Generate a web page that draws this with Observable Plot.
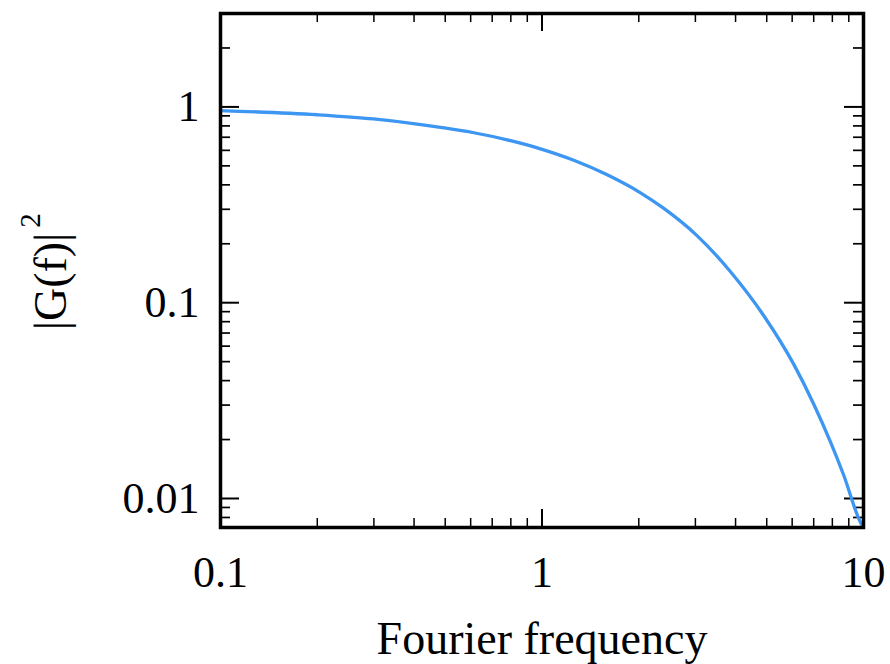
<!DOCTYPE html>
<html><head><meta charset="utf-8">
<script src="https://cdn.jsdelivr.net/npm/d3@7"></script>
<script src="https://cdn.jsdelivr.net/npm/@observablehq/plot@0.6"></script>
<style>html,body{margin:0;padding:0;background:#fff}</style>
</head><body><div id="chart"></div>
<script>
// Values
const freq  = [0.1, 0.2, 0.299, 0.398, 0.483, 0.614, 0.779, 0.989, 1.256, 1.595, 2.025, 2.393, 3.04, 3.858, 4.897, 6.07, 7.004, 7.898, 8.685, 9.788, 10];
const power = [0.958, 0.912, 0.868, 0.822, 0.786, 0.738, 0.679, 0.611, 0.534, 0.450, 0.364, 0.303, 0.2195, 0.1440, 0.0858, 0.0484, 0.0303, 0.0194, 0.0131, 0.00755, 0.00711];

const xTickValues = [0.1, 1, 10];
const xTickLabels = ["0.1", "1", "10"];
const yTickValues = [0.01, 0.1, 1];
const yTickLabels = ["0.01", "0.1", "1"];
const xMinorTicks = [0.2, 0.3, 0.4, 0.5, 0.6, 0.7, 0.8, 0.9, 2, 3, 4, 5, 6, 7, 8, 9];
const yMinorTicks = [0.008, 0.009, 0.02, 0.03, 0.04, 0.05, 0.06, 0.07, 0.08, 0.09, 0.2, 0.3, 0.4, 0.5, 0.6, 0.7, 0.8, 0.9, 2];
const xDomain = [0.1, 10];
const yDomain = [0.00711, 3.0];
const xLabel = "Fourier frequency";
const yLabel = "|G(f)|";
const yLabelSup = "2";

const data = freq.map((f, i) => ({f, p: power[i]}));

const width = 890, height = 664;
const mL = 220, mR = 27, mT = 13, mB = 137;
const W = width - mL - mR, H = height - mT - mB;
const majorLen = 18, minorLen = 9;
const font = "'Liberation Serif', 'Times New Roman', serif";

const chart = Plot.plot({
  width, height,
  marginLeft: mL, marginRight: mR, marginTop: mT, marginBottom: mB,
  style: {fontFamily: font, background: "#fff", color: "black", overflow: "visible"},
  x: {type: "log", domain: xDomain, axis: null},
  y: {type: "log", domain: yDomain, axis: null},
  marks: [
    // minor ticks (inward on all four sides)
    Plot.ruleX(xMinorTicks, {x: d => d, insetTop: H - minorLen, stroke: "black", strokeWidth: 1.5}),
    Plot.ruleX(xMinorTicks, {x: d => d, insetBottom: H - minorLen, stroke: "black", strokeWidth: 1.5}),
    Plot.ruleY(yMinorTicks, {y: d => d, insetRight: W - minorLen - 1, stroke: "black", strokeWidth: 1.7}),
    Plot.ruleY(yMinorTicks, {y: d => d, insetLeft: W - minorLen - 1, stroke: "black", strokeWidth: 1.7}),
    // major ticks
    Plot.ruleX(xTickValues, {x: d => d, insetTop: H - majorLen, stroke: "black", strokeWidth: 2}),
    Plot.ruleX(xTickValues, {x: d => d, insetBottom: H - majorLen, stroke: "black", strokeWidth: 2}),
    Plot.ruleY(yTickValues, {y: d => d, insetRight: W - majorLen - 1, stroke: "black", strokeWidth: 2}),
    Plot.ruleY(yTickValues, {y: d => d, insetLeft: W - majorLen - 1, stroke: "black", strokeWidth: 2}),
    // curve
    Plot.line(data, {x: "f", y: "p", stroke: "#3d96f2", strokeWidth: 3.3, curve: "monotone-x", clip: "frame"}),
    // frame
    Plot.frame({stroke: "black", strokeWidth: 3.5}),
    // tick labels
    Plot.text(xTickValues, {x: d => d, text: (d, i) => xTickLabels[i], frameAnchor: "bottom", dy: 59,
      lineAnchor: "bottom", textAnchor: "middle", fontSize: 44, fill: "black", fontFamily: font}),
    Plot.text(yTickValues, {y: d => d, text: (d, i) => yTickLabels[i], frameAnchor: "left", dx: -21,
      lineAnchor: "middle", textAnchor: "end", fontSize: 44, fill: "black", fontFamily: font}),
    // axis titles
    Plot.text([xLabel], {text: d => d, frameAnchor: "bottom", dy: 126, lineAnchor: "bottom",
      textAnchor: "middle", fontSize: 46, fill: "black", fontFamily: font}),
    Plot.text([yLabel], {text: d => d, frameAnchor: "top-left", dx: 65 - mL, dy: 281 - mT, rotate: -90,
      lineAnchor: "bottom", textAnchor: "middle", fontSize: 46, fill: "black", fontFamily: font}),
    Plot.text([yLabelSup], {text: d => d, frameAnchor: "top-left", dx: 39 - mL, dy: 220 - mT, rotate: -90,
      lineAnchor: "bottom", textAnchor: "middle", fontSize: 29, fill: "black", fontFamily: font})
  ]
});
document.getElementById("chart").appendChild(chart);
</script>
</body></html>
